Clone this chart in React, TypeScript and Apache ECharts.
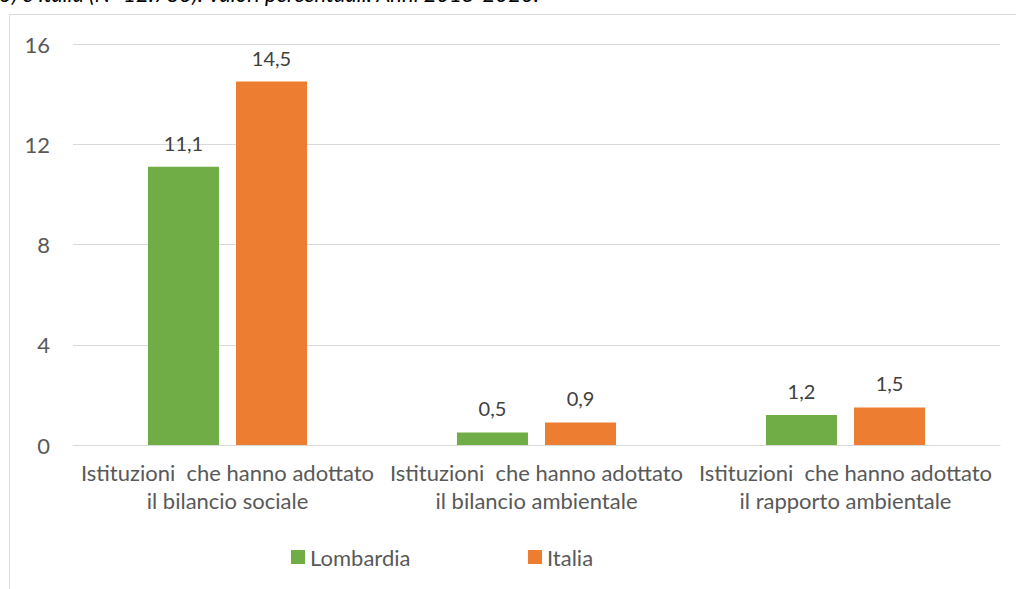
import React, { useEffect, useRef } from "react";
import * as echarts from "echarts";

const categories = [
  "Istituzioni  che hanno adottato\nil bilancio sociale",
  "Istituzioni  che hanno adottato\nil bilancio ambientale",
  "Istituzioni  che hanno adottato\nil rapporto ambientale",
];
const lombardia = [11.1, 0.5, 1.2];
const italia = [14.5, 0.9, 1.5];
const yTicks = { min: 0, max: 16, interval: 4 };
const titleText = "3) e Italia (N=12.783). Valori percentuali. Anni 2015-2020.";

const FONT = "Lato, 'Open Sans', sans-serif";
const GREY = "#595959";

export default function App() {
  const ref = useRef<HTMLDivElement>(null);
  useEffect(() => {
    if (!ref.current) return;
    const chart = echarts.init(ref.current, undefined, { renderer: "svg" });
    const fmt = (p: any) => String(p.value).replace(".", ",");
    chart.setOption({
      animation: false,
      backgroundColor: "#ffffff",
      textStyle: { fontFamily: FONT },
      graphic: [
        {
          type: "rect",
          silent: true,
          shape: { x: 9.5, y: 14.5, width: 1200, height: 800 },
          style: { fill: "none", stroke: "#d9d9d9", lineWidth: 1 },
        },
        {
          type: "text",
          x: -1,
          y: -7,
          style: {
            text: titleText,
            fill: "#000000",
            font: "italic 22px " + FONT,
            verticalAlign: "middle",
            align: "left",
          },
        },
      ],
      legend: [
        {
          data: ["Lombardia"],
          left: 286,
          top: 541,
          itemWidth: 14,
          itemHeight: 14,
          icon: "rect",
          textStyle: { color: GREY, fontSize: 22, fontFamily: FONT },
        },
        {
          data: ["Italia"],
          left: 523,
          top: 541,
          itemWidth: 14,
          itemHeight: 14,
          icon: "rect",
          textStyle: { color: GREY, fontSize: 22, fontFamily: FONT },
        },
      ],
      grid: { left: 73, right: 16, top: 44, height: 401, containLabel: false },
      xAxis: {
        type: "category",
        data: categories,
        axisLine: { show: true, lineStyle: { color: "#d9d9d9", width: 1 } },
        axisTick: { show: false },
        axisLabel: {
          interval: 0,
          color: GREY,
          fontSize: 22,
          fontFamily: FONT,
          lineHeight: 28,
          margin: 13,
        },
      },
      yAxis: {
        type: "value",
        min: yTicks.min,
        max: yTicks.max,
        interval: yTicks.interval,
        axisLine: { show: false },
        axisTick: { show: false },
        axisLabel: { color: GREY, fontSize: 22, fontFamily: FONT, margin: 23 },
        splitLine: { lineStyle: { color: "#d9d9d9", width: 1 } },
      },
      series: [
        {
          name: "Lombardia",
          type: "bar",
          data: lombardia,
          barWidth: 71,
          barGap: "24%",
          itemStyle: { color: "#70ad47" },
          label: {
            show: true,
            position: "top",
            distance: 14,
            color: "#404040",
            fontSize: 20,
            fontFamily: FONT,
            formatter: fmt,
          },
        },
        {
          name: "Italia",
          type: "bar",
          data: italia,
          barWidth: 71,
          itemStyle: { color: "#ed7d31" },
          label: {
            show: true,
            position: "top",
            distance: 14,
            color: "#404040",
            fontSize: 20,
            fontFamily: FONT,
            formatter: fmt,
          },
        },
      ],
    });
    return () => chart.dispose();
  }, []);
  return (
    <div
      ref={ref}
      style={{ position: "absolute", left: 0, top: 0, width: 1016, height: 589 }}
    />
  );
}
